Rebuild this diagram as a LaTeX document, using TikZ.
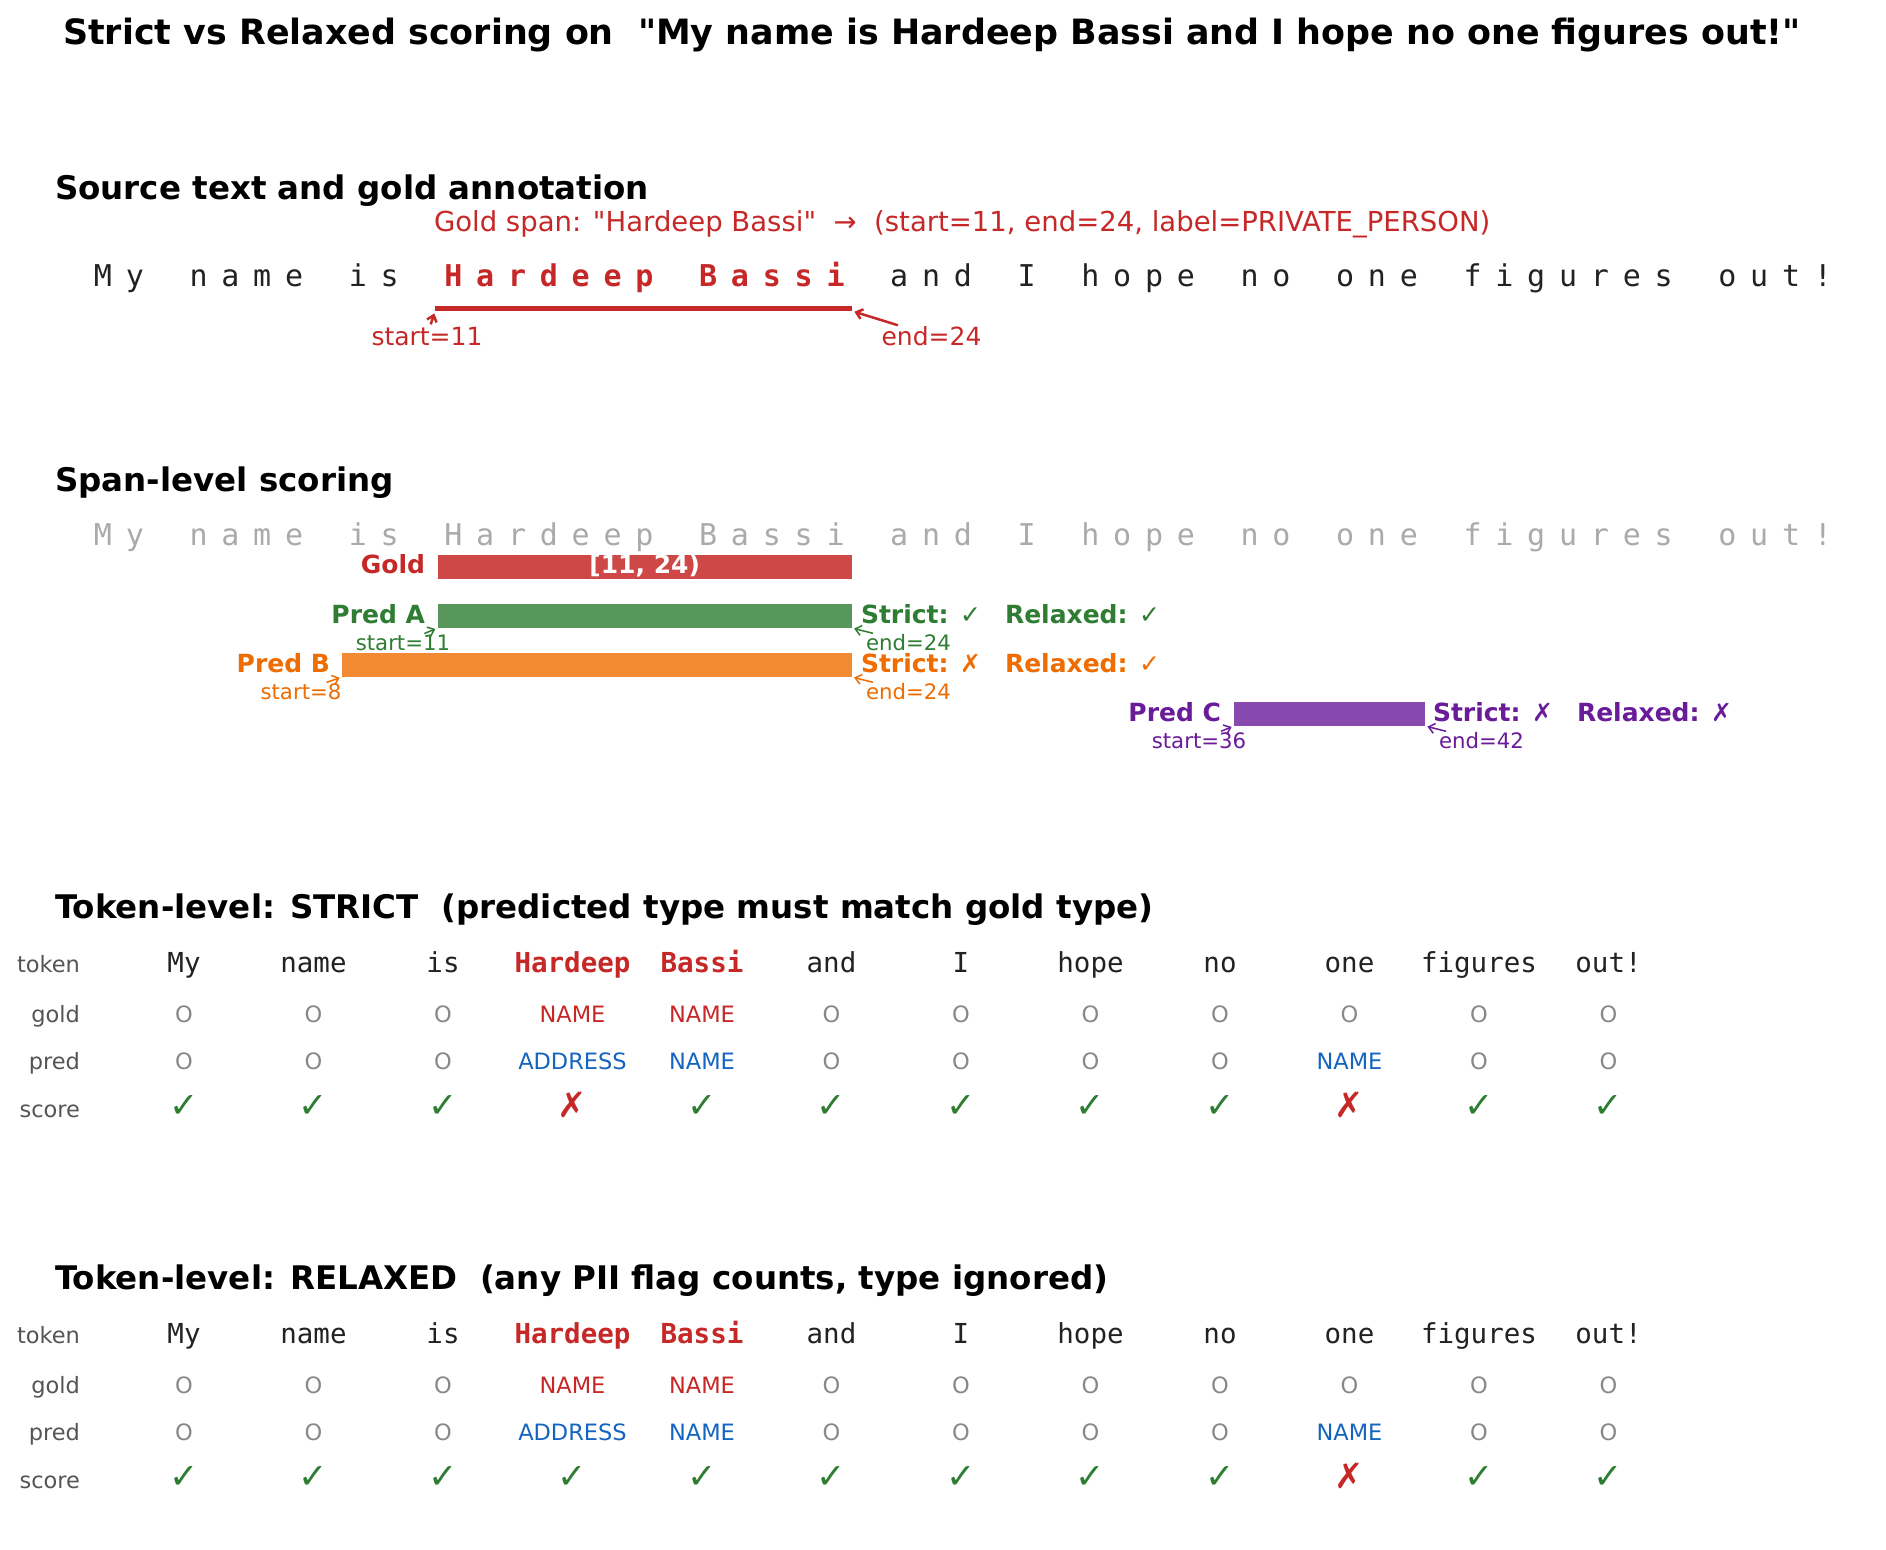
\documentclass[tikz,border=0pt]{standalone}
\usepackage{fontspec}
\setmainfont{DejaVu Sans}[Ligatures=TeXOff]
\setmonofont{DejaVu Sans Mono}
\usetikzlibrary{arrows.meta}
\definecolor{cred}{HTML}{C62828}
\definecolor{cgreen}{HTML}{2E7D32}
\definecolor{corange}{HTML}{EF6C00}
\definecolor{cpurple}{HTML}{6A1B9A}
\definecolor{cblue}{HTML}{1565C0}
\definecolor{cdark}{HTML}{222222}
\definecolor{cgrayO}{HTML}{888888}
\definecolor{clab}{HTML}{555555}
\definecolor{cfaint}{HTML}{AAAAAA}
\newcommand\myfs[1]{\fontsize{#1}{#1}\selectfont}
\newcommand\okc{\textcolor{cgreen}{✓}}
\newcommand\badc{\textcolor{cred}{✗}}
\newcommand\spread[5]{\foreach \ch [count=\k from #1] in {#2}{\node[#3] (#4\k) at ({103+31.85*\k},#5) {\ch};}}
\begin{document}
\begin{tikzpicture}[x=0.4pt,y=-0.4pt,
  every node/.style={inner sep=0pt, outer sep=0pt},
  ttl/.style={font=\myfs{13.95}\bfseries, anchor=base, text=black},
  sechd/.style={font=\myfs{13}\bfseries, anchor=base west, text=black},
  chN/.style={font=\myfs{12}\ttfamily, text=cdark, anchor=base},
  chP/.style={font=\myfs{12}\ttfamily\bfseries, text=cred, anchor=base},
  chG/.style={font=\myfs{12}\ttfamily, text=cfaint, anchor=base},
  spanbar/.style={rectangle, draw=none, minimum height=9.6pt},
  blab/.style={font=\myfs{10}\bfseries, anchor=base east},
  verdict/.style={font=\myfs{10}\bfseries, anchor=base west},
  posl/.style={font=\myfs{8.5}},
  ptr/.style={-{Straight Barb[length=2.4pt,width=4pt]}, line width=0.6pt, shorten >=1pt, shorten <=1pt},
  rowlab/.style={font=\myfs{9}, text=clab, anchor=base east},
  tokn/.style={font=\myfs{11}\ttfamily, text=cdark, anchor=base},
  tokp/.style={font=\myfs{11}\ttfamily\bfseries, text=cred, anchor=base},
  lO/.style={font=\myfs{9}, text=cgrayO, anchor=base},
  lG/.style={font=\myfs{9}, text=cred, anchor=base},
  lP/.style={font=\myfs{9}, text=cblue, anchor=base},
  scorest/.style={font=\myfs{14}, anchor=base},
]
\fill[white] (0,0) rectangle (1886,1549);
\useasboundingbox (0,0) rectangle (1886,1549);

\node[ttl] (title) at (932,44) {Strict vs Relaxed scoring on~ "My name is Hardeep Bassi and I hope no one figures out!"};

% ---- Source text
\node[sechd] (h1) at (55,199) {Source text and gold annotation};
\node[font=\myfs{11}, text=cred, anchor=base west] (gspan) at (434,231) {Gold span: "Hardeep Bassi"~ →~ (start=11, end=24, label=PRIVATE\_PERSON)};
\spread{0}{M,y}{chN}{s}{286}
\spread{3}{n,a,m,e}{chN}{s}{286}
\spread{8}{i,s}{chN}{s}{286}
\spread{11}{H,a,r,d,e,e,p}{chP}{s}{286}
\spread{19}{B,a,s,s,i}{chP}{s}{286}
\spread{25}{a,n,d}{chN}{s}{286}
\spread{29}{I}{chN}{s}{286}
\spread{31}{h,o,p,e}{chN}{s}{286}
\spread{36}{n,o}{chN}{s}{286}
\spread{39}{o,n,e}{chN}{s}{286}
\spread{43}{f,i,g,u,r,e,s}{chN}{s}{286}
\spread{51}{o,u,t,!}{chN}{s}{286}
\node[spanbar, fill=cred, minimum width=166.8pt, minimum height=2pt] (uline) at (643.5,308.5) {};
\node[font=\myfs{10}, text=cred, anchor=base] (ust) at (427,345) {start=11};
\node[font=\myfs{10}, text=cred, anchor=base west] (uen) at (881.6,345) {end=24};
\draw[ptr, cred, line width=1pt] (ust) -- (uline.south west);
\draw[ptr, cred, line width=1pt] (uen) -- (uline.south east);

% ---- Span-level
\node[sechd] (h2) at (55,491) {Span-level scoring};
\spread{0}{M,y}{chG}{g}{545}
\spread{3}{n,a,m,e}{chG}{g}{545}
\spread{8}{i,s}{chG}{g}{545}
\spread{11}{H,a,r,d,e,e,p}{chG}{g}{545}
\spread{19}{B,a,s,s,i}{chG}{g}{545}
\spread{25}{a,n,d}{chG}{g}{545}
\spread{29}{I}{chG}{g}{545}
\spread{31}{h,o,p,e}{chG}{g}{545}
\spread{36}{n,o}{chG}{g}{545}
\spread{39}{o,n,e}{chG}{g}{545}
\spread{43}{f,i,g,u,r,e,s}{chG}{g}{545}
\spread{51}{o,u,t,!}{chG}{g}{545}

\node[spanbar, fill=cred!85!white, minimum width=165.62pt] (bgold) at (644.7,566.5) {};
\node[font=\myfs{10}\bfseries, text=white, anchor=base] (glab) at (644.7,573) {[11, 24)};
\node[blab, text=cred] (lgold) at (425,573) {Gold};

\node[spanbar, fill=cgreen!80!white, minimum width=165.62pt] (bA) at (644.7,616) {};
\node[blab, text=cgreen] (lA) at (425,623) {Pred A};
\node[verdict, text=cgreen] (sA) at (861,623) {Strict: {\mdseries ✓}};
\node[verdict, text=cgreen] (rA) at (1005,623) {Relaxed: {\mdseries ✓}};
\node[posl, text=cgreen, anchor=base] (aS) at (403,650) {start=11};
\node[posl, text=cgreen, anchor=base west] (aE) at (866,650) {end=24};
\draw[ptr, cgreen] (aS) -- (bA.south west);
\draw[ptr, cgreen] (aE) -- (bA.south east);

\node[spanbar, fill=corange!80!white, minimum width=203.84pt] (bB) at (596.9,665) {};
\node[blab, text=corange] (lB) at (330,672) {Pred B};
\node[verdict, text=corange] (sB) at (861,672) {Strict: {\mdseries ✗}};
\node[verdict, text=corange] (rB) at (1005,672) {Relaxed: {\mdseries ✓}};
\node[posl, text=corange, anchor=base] (bS) at (301,699) {start=8};
\node[posl, text=corange, anchor=base west] (bE) at (866,699) {end=24};
\draw[ptr, corange] (bS) -- (bB.south west);
\draw[ptr, corange] (bE) -- (bB.south east);

\node[spanbar, fill=cpurple!80!white, minimum width=76.44pt] (bC) at (1329.45,714) {};
\node[blab, text=cpurple] (lC) at (1221,721) {Pred C};
\node[verdict, text=cpurple] (sC) at (1433,721) {Strict: {\mdseries ✗}};
\node[verdict, text=cpurple] (rC) at (1577,721) {Relaxed: {\mdseries ✗}};
\node[posl, text=cpurple, anchor=base] (cS) at (1199,748) {start=36};
\node[posl, text=cpurple, anchor=base west] (cE) at (1439,748) {end=42};
\draw[ptr, cpurple] (cS) -- (bC.south west);
\draw[ptr, cpurple] (cE) -- (bC.south east);

% ---- Token tables
\node[sechd] (h3) at (55,918) {Token-level: STRICT~ (predicted type must match gold type)};
\node[sechd] (h4) at (55,1289) {Token-level: RELAXED~ (any PII flag counts, type ignored)};
\node[rowlab] (r1t) at (80,972) {token};
\node[rowlab] (r1g) at (80,1022) {gold};
\node[rowlab] (r1p) at (80,1069.5) {pred};
\node[rowlab] (r1s) at (80,1117) {score};
\node[rowlab] (r2t) at (80,1343) {token};
\node[rowlab] (r2g) at (80,1393) {gold};
\node[rowlab] (r2p) at (80,1440.5) {pred};
\node[rowlab] (r2s) at (80,1488) {score};
\foreach \w/\ws/\g/\gs/\p/\ps/\sa/\sb [count=\k from 0] in {
 My/tokn/O/lO/O/lO/\okc/\okc,
 name/tokn/O/lO/O/lO/\okc/\okc,
 is/tokn/O/lO/O/lO/\okc/\okc,
 Hardeep/tokp/NAME/lG/ADDRESS/lP/\badc/\okc,
 Bassi/tokp/NAME/lG/NAME/lP/\okc/\okc,
 and/tokn/O/lO/O/lO/\okc/\okc,
 I/tokn/O/lO/O/lO/\okc/\okc,
 hope/tokn/O/lO/O/lO/\okc/\okc,
 no/tokn/O/lO/O/lO/\okc/\okc,
 one/tokn/O/lO/NAME/lP/\badc/\badc,
 figures/tokn/O/lO/O/lO/\okc/\okc,
 out!/tokn/O/lO/O/lO/\okc/\okc}{
 \pgfmathsetmacro\cx{184+129.5*\k}
 \node[\ws] (at\k) at (\cx,972) {\w};
 \node[\gs] (ag\k) at (\cx,1022) {\g};
 \node[\ps] (ap\k) at (\cx,1069.5) {\p};
 \node[scorest] (as\k) at (\cx,1117) {\sa};
 \node[\ws] (bt\k) at (\cx,1343) {\w};
 \node[\gs] (bg\k) at (\cx,1393) {\g};
 \node[\ps] (bp\k) at (\cx,1440.5) {\p};
 \node[scorest] (bs\k) at (\cx,1488) {\sb};
}
\end{tikzpicture}
\end{document}
